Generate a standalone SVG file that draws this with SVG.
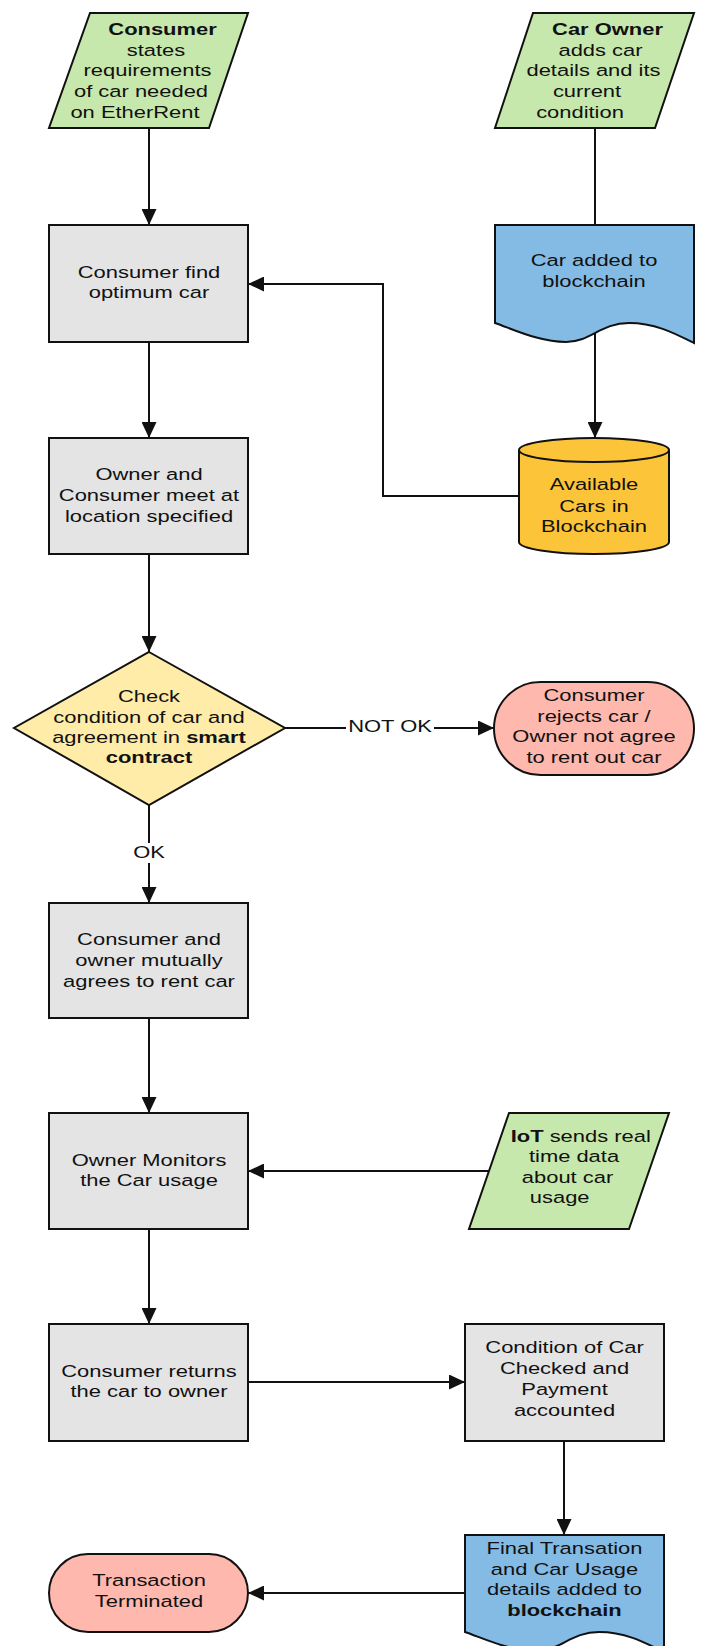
<svg xmlns="http://www.w3.org/2000/svg" width="701" height="1646" viewBox="0 0 701 1646">
<style>
  .sh { stroke: #111; stroke-width: 2; }
  .green { fill: #c7e8ac; }
  .gray { fill: #e4e4e4; }
  .blue { fill: #83bbe5; }
  .gold { fill: #fcc438; }
  .pale { fill: #ffeca8; }
  .pink { fill: #ffb8ae; }
  text { font-family: "Liberation Sans", Arial, sans-serif; font-size: 17px; fill: #111; text-anchor: middle; }
  .b { font-weight: bold; }
  .conn { fill: none; stroke: #111; stroke-width: 2; }
  .lblbg { fill: #ffffff; }
</style>
<defs>
  <marker id="arr" markerUnits="userSpaceOnUse" markerWidth="16" markerHeight="15" refX="16" refY="7.5" orient="auto">
    <path d="M0,0 L16,7.5 L0,15 Z" fill="#111"/>
  </marker>
</defs>

<g id="connectors">
  <path class="conn" d="M149,128 V225" marker-end="url(#arr)"/>
  <path class="conn" d="M595,128 V225"/>
  <path class="conn" d="M595,333 V438" marker-end="url(#arr)"/>
  <path class="conn" d="M519,496 H383 V284 H248" marker-end="url(#arr)"/>
  <path class="conn" d="M149,342 V438" marker-end="url(#arr)"/>
  <path class="conn" d="M149,554 V652" marker-end="url(#arr)"/>
  <path class="conn" d="M285,728 H494" marker-end="url(#arr)"/>
  <path class="conn" d="M149,805 V903" marker-end="url(#arr)"/>
  <path class="conn" d="M149,1018 V1113" marker-end="url(#arr)"/>
  <path class="conn" d="M489,1171 H248" marker-end="url(#arr)"/>
  <path class="conn" d="M149,1229 V1324" marker-end="url(#arr)"/>
  <path class="conn" d="M248,1382 H465" marker-end="url(#arr)"/>
  <path class="conn" d="M564,1441 V1535" marker-end="url(#arr)"/>
  <path class="conn" d="M465,1593 H248" marker-end="url(#arr)"/>
  <rect class="lblbg" x="346" y="718" width="88" height="18"/>
  <text transform="translate(390 0) scale(1.29 1)" x="0" y="732">NOT OK</text>
  <rect class="lblbg" x="134" y="843" width="30" height="20"/>
  <text transform="translate(149 0) scale(1.29 1)" x="0" y="858">OK</text>
</g>

<g id="consumer-states">
  <polygon class="sh green" points="90,13 248,13 209,128 49,128"/>
  <text transform="translate(162.5 0) scale(1.29 1)" x="0" y="35" class="b">Consumer</text>
  <text transform="translate(156 0) scale(1.29 1)" x="0" y="56">states</text>
  <text transform="translate(147.5 0) scale(1.29 1)" x="0" y="76">requirements</text>
  <text transform="translate(141 0) scale(1.29 1)" x="0" y="97">of car needed</text>
  <text transform="translate(135 0) scale(1.29 1)" x="0" y="118">on EtherRent</text>
</g>

<g id="car-owner">
  <polygon class="sh green" points="533,13 694,13 655,128 495,128"/>
  <text transform="translate(607.5 0) scale(1.29 1)" x="0" y="35" class="b">Car Owner</text>
  <text transform="translate(600.5 0) scale(1.29 1)" x="0" y="56">adds car</text>
  <text transform="translate(593.5 0) scale(1.29 1)" x="0" y="76">details and its</text>
  <text transform="translate(587 0) scale(1.29 1)" x="0" y="97">current</text>
  <text transform="translate(580 0) scale(1.29 1)" x="0" y="118">condition</text>
</g>

<g id="find-car">
  <rect class="sh gray" x="49" y="225" width="199" height="117"/>
  <text transform="translate(149 0) scale(1.29 1)" x="0" y="278">Consumer find</text>
  <text transform="translate(149 0) scale(1.29 1)" x="0" y="298">optimum car</text>
</g>

<g id="car-added">
  <path class="sh blue" d="M495,225 H694 V343 C674,333 655,323 629,323 C601,323 590,342 566,342 C540,342 515,330 495,323 Z"/>
  <text transform="translate(594 0) scale(1.29 1)" x="0" y="266">Car added to</text>
  <text transform="translate(594 0) scale(1.29 1)" x="0" y="287">blockchain</text>
</g>

<g id="available-cars">
  <path class="sh gold" d="M519,450 V542 A75,12 0 0 0 669,542 V450"/>
  <ellipse class="sh gold" cx="594" cy="450" rx="75" ry="12"/>
  <text transform="translate(594 0) scale(1.29 1)" x="0" y="490">Available</text>
  <text transform="translate(594 0) scale(1.29 1)" x="0" y="512">Cars in</text>
  <text transform="translate(594 0) scale(1.29 1)" x="0" y="532">Blockchain</text>
</g>

<g id="meet">
  <rect class="sh gray" x="49" y="438" width="199" height="116"/>
  <text transform="translate(149 0) scale(1.29 1)" x="0" y="480">Owner and</text>
  <text transform="translate(149 0) scale(1.29 1)" x="0" y="501">Consumer meet at</text>
  <text transform="translate(149 0) scale(1.29 1)" x="0" y="522">location specified</text>
</g>

<g id="check">
  <polygon class="sh pale" points="149,652 285,728 149,805 14,728"/>
  <text transform="translate(149 0) scale(1.29 1)" x="0" y="702">Check</text>
  <text transform="translate(149 0) scale(1.29 1)" x="0" y="723">condition of car and</text>
  <text transform="translate(149 0) scale(1.29 1)" x="0" y="743">agreement in <tspan class="b">smart</tspan></text>
  <text transform="translate(149 0) scale(1.29 1)" x="0" y="763" class="b">contract</text>
</g>

<g id="rejects">
  <rect class="sh pink" x="494" y="682" width="200" height="93" rx="46.5" ry="46.5"/>
  <text transform="translate(594 0) scale(1.29 1)" x="0" y="701">Consumer</text>
  <text transform="translate(594 0) scale(1.29 1)" x="0" y="722">rejects car /</text>
  <text transform="translate(594 0) scale(1.29 1)" x="0" y="742">Owner not agree</text>
  <text transform="translate(594 0) scale(1.29 1)" x="0" y="763">to rent out car</text>
</g>

<g id="agree">
  <rect class="sh gray" x="49" y="903" width="199" height="115"/>
  <text transform="translate(149 0) scale(1.29 1)" x="0" y="945">Consumer and</text>
  <text transform="translate(149 0) scale(1.29 1)" x="0" y="966">owner mutually</text>
  <text transform="translate(149 0) scale(1.29 1)" x="0" y="987">agrees to rent car</text>
</g>

<g id="monitor">
  <rect class="sh gray" x="49" y="1113" width="199" height="116"/>
  <text transform="translate(149 0) scale(1.29 1)" x="0" y="1166">Owner Monitors</text>
  <text transform="translate(149 0) scale(1.29 1)" x="0" y="1186">the Car usage</text>
</g>

<g id="iot">
  <polygon class="sh green" points="509,1113 669,1113 629,1229 469,1229"/>
  <text transform="translate(580.7 0) scale(1.29 1)" x="0" y="1142"><tspan class="b">IoT</tspan> sends real</text>
  <text transform="translate(574 0) scale(1.29 1)" x="0" y="1162">time data</text>
  <text transform="translate(567.5 0) scale(1.29 1)" x="0" y="1183">about car</text>
  <text transform="translate(559.7 0) scale(1.29 1)" x="0" y="1203">usage</text>
</g>

<g id="returns">
  <rect class="sh gray" x="49" y="1324" width="199" height="117"/>
  <text transform="translate(149 0) scale(1.29 1)" x="0" y="1377">Consumer returns</text>
  <text transform="translate(149 0) scale(1.29 1)" x="0" y="1397">the car to owner</text>
</g>

<g id="condition-checked">
  <rect class="sh gray" x="465" y="1324" width="199" height="117"/>
  <text transform="translate(564.5 0) scale(1.29 1)" x="0" y="1353">Condition of Car</text>
  <text transform="translate(564.5 0) scale(1.29 1)" x="0" y="1374">Checked and</text>
  <text transform="translate(564.5 0) scale(1.29 1)" x="0" y="1395">Payment</text>
  <text transform="translate(564.5 0) scale(1.29 1)" x="0" y="1416">accounted</text>
</g>

<g id="final-transaction">
  <path class="sh blue" d="M465,1535 H664 V1652 C644,1642 625,1632 599,1632 C571,1632 560,1651 536,1651 C510,1651 485,1639 465,1632 Z"/>
  <text transform="translate(564.5 0) scale(1.29 1)" x="0" y="1554">Final Transation</text>
  <text transform="translate(564.5 0) scale(1.29 1)" x="0" y="1575">and Car Usage</text>
  <text transform="translate(564.5 0) scale(1.29 1)" x="0" y="1595">details added to</text>
  <text transform="translate(564.5 0) scale(1.29 1)" x="0" y="1616" class="b">blockchain</text>
</g>

<g id="terminated">
  <rect class="sh pink" x="49" y="1554" width="199" height="78" rx="39" ry="39"/>
  <text transform="translate(149 0) scale(1.29 1)" x="0" y="1586">Transaction</text>
  <text transform="translate(149 0) scale(1.29 1)" x="0" y="1607">Terminated</text>
</g>
</svg>
